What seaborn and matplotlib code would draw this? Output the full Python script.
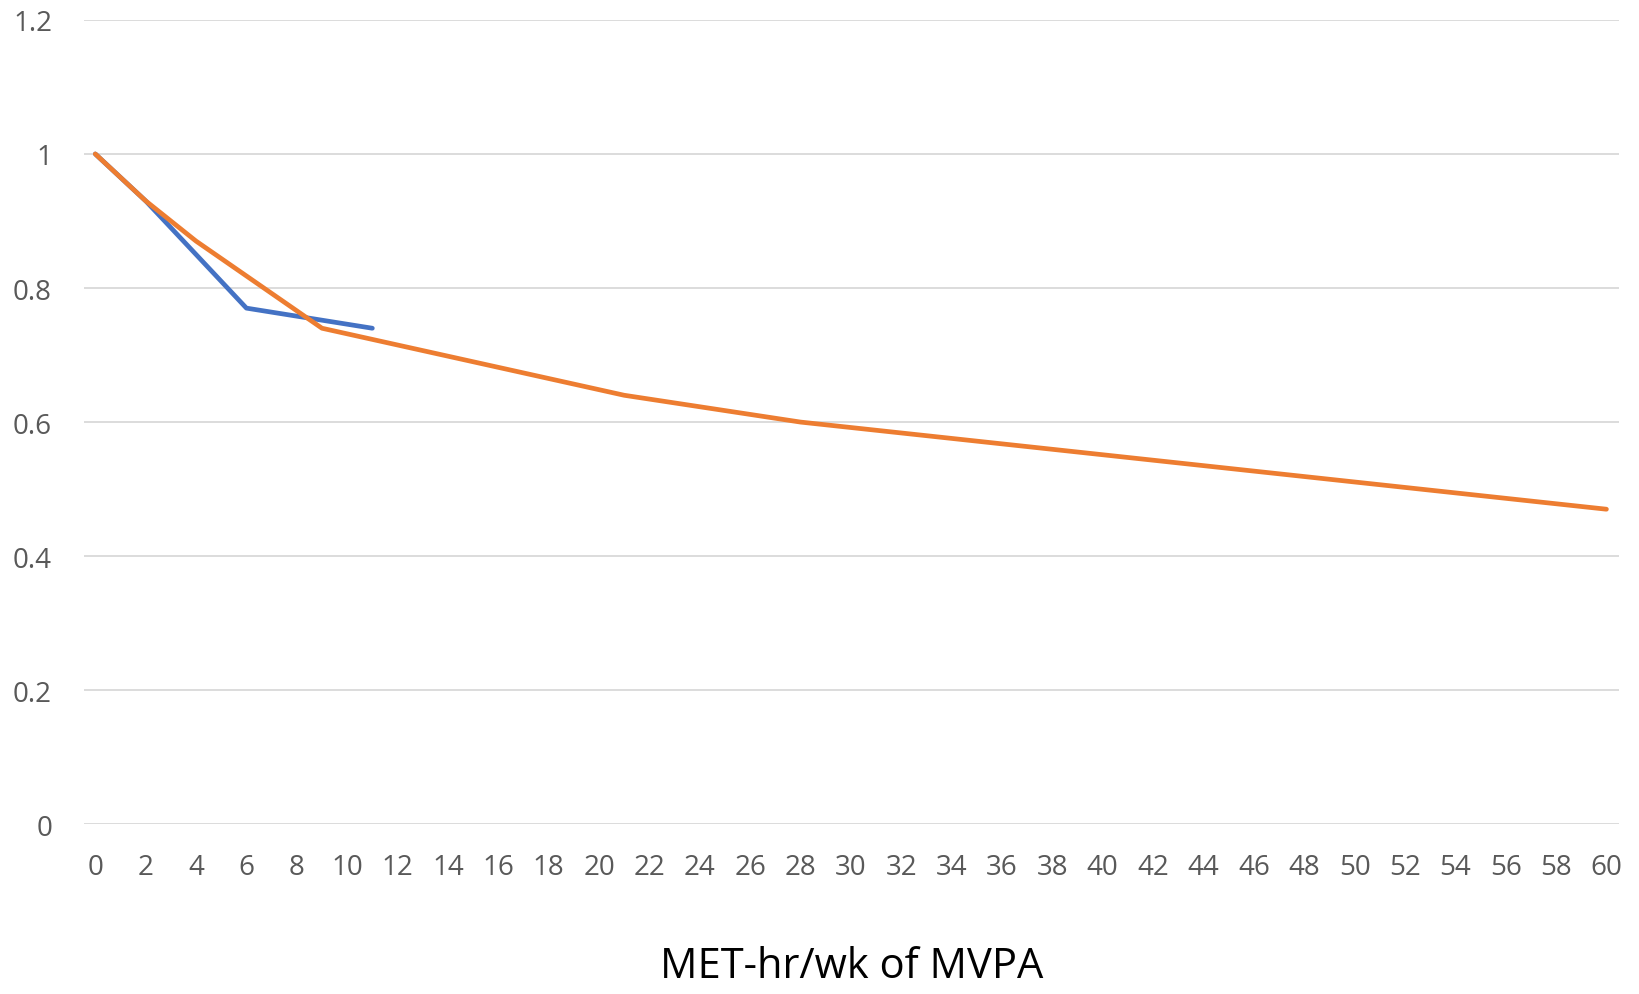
import pandas as pd
import matplotlib.pyplot as plt
import seaborn as sns

# Dados
met_azul = [0, 2, 6, 11]
risco_azul = [1.0, 0.93, 0.77, 0.74]

met_laranja = [0, 2, 4, 9, 21, 28, 60]
risco_laranja = [1.0, 0.93, 0.87, 0.74, 0.64, 0.60, 0.47]

x_ticks = list(range(0, 61, 2))
y_ticks = [0, 0.2, 0.4, 0.6, 0.8, 1.0, 1.2]
y_labels = ["0", "0.2", "0.4", "0.6", "0.8", "1", "1.2"]

df_azul = pd.DataFrame({"met": met_azul, "risco": risco_azul})
df_laranja = pd.DataFrame({"met": met_laranja, "risco": risco_laranja})

sns.set_style("white")
plt.rcParams["font.family"] = ["Open Sans", "DejaVu Sans"]

fig = plt.figure(figsize=(16.4, 9.95), dpi=100)
ax = fig.add_axes([0.0512, 0.1706, 0.936, 0.8084])

sns.lineplot(data=df_azul, x="met", y="risco", ax=ax, color="#4472C4",
             linewidth=3.4, solid_capstyle="round", zorder=3)
sns.lineplot(data=df_laranja, x="met", y="risco", ax=ax, color="#ED7D31",
             linewidth=3.4, solid_capstyle="round", zorder=4)

ax.set_xlim(-0.45, 60.5)
ax.set_ylim(0, 1.2)
ax.set_xticks(x_ticks)
ax.set_xticklabels([str(t) for t in x_ticks])
ax.set_yticks(y_ticks)
ax.set_yticklabels(y_labels)
ax.tick_params(axis="both", length=0, labelsize=20, labelcolor="#595959")
ax.tick_params(axis="x", pad=21)
ax.tick_params(axis="y", pad=23)
ax.yaxis.grid(True, color="#D9D9D9", linewidth=1.3)
ax.xaxis.grid(False)
for s in ax.spines.values():
    s.set_visible(False)
ax.set_ylabel("")
ax.set_xlabel("MET-hr/wk of MVPA", fontsize=30, color="black", labelpad=46)

fig.savefig("out.png", dpi=100)
